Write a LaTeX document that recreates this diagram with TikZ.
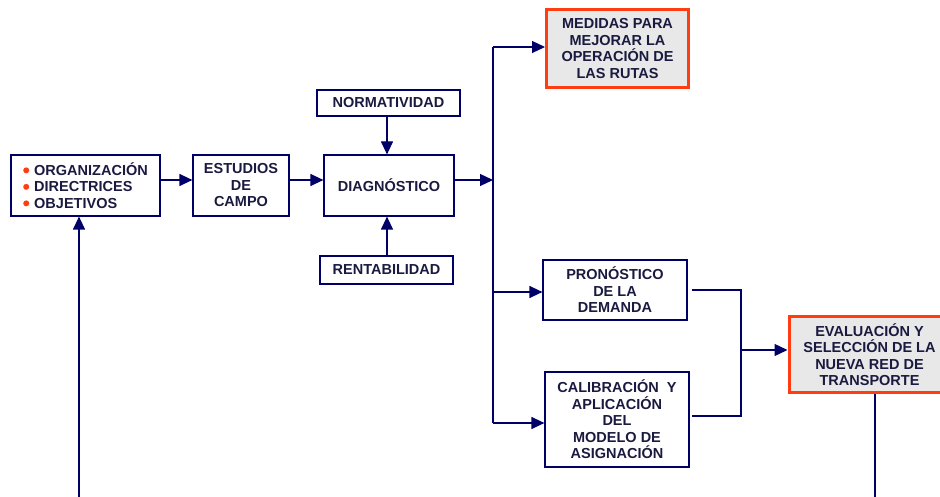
\documentclass[tikz,border=0pt]{standalone}
\usepackage{fontspec}
\setmainfont{Liberation Sans}
\usetikzlibrary{positioning, arrows.meta}

\definecolor{navy}{HTML}{000066}
\definecolor{inkblue}{HTML}{1A1A40}
\definecolor{redline}{HTML}{FF3D12}
\definecolor{boxgray}{HTML}{E8E8E8}

\newcommand{\bul}{\tikz[x=1pt, y=1pt, baseline={(0,0)}] \fill[redline] (0,5) circle (3);\hspace{5pt}}

\begin{document}
\begin{tikzpicture}[
    x=1pt, y=-1pt,
    font=\fontsize{14.5}{16.5}\selectfont\bfseries,
    step box/.style={draw=navy, line width=1.2pt, text=inkblue, align=center, inner sep=0pt},
    goal box/.style={draw=redline, fill=boxgray, line width=3pt, text=inkblue, align=center, inner sep=0pt},
    flow line/.style={draw=navy, line width=1.2pt},
    arrow line/.style={flow line, -{Triangle[length=13pt, width=12pt]}}
]
    \useasboundingbox (0,0) rectangle (940,497);

    % Nodes
    \node[step box, minimum width=149, minimum height=61, align=left] (org) at (85.5,185.5)
        {\bul ORGANIZACIÓN\\ \bul DIRECTRICES\\ \bul OBJETIVOS};
    \node[step box, minimum width=96, minimum height=61] (estudios) at (241,185.5) {ESTUDIOS\\ DE\\ CAMPO};
    \node[step box, minimum width=130, minimum height=61] (diag) at (389,185.5) {DIAGNÓSTICO};
    \node[step box, minimum width=143, minimum height=26] (norma) at (388.5,103) {NORMATIVIDAD};
    \node[step box, minimum width=133, minimum height=28] (renta) at (386.5,270) {RENTABILIDAD};
    \node[goal box, minimum width=142, minimum height=78] (medidas) at (617.5,48.5)
        {MEDIDAS PARA\\ MEJORAR LA\\ OPERACIÓN DE\\ LAS RUTAS};
    \node[step box, minimum width=144, minimum height=60] (pron) at (615,290) {PRONÓSTICO\\ DE LA\\ DEMANDA};
    \node[step box, minimum width=144, minimum height=95] (calib) at (617,419.5)
        {CALIBRACIÓN\ \ Y\\ APLICACIÓN\\ DEL\\ MODELO DE\\ ASIGNACIÓN};
    \node[goal box, minimum width=161, minimum height=76] (eval) at (869.5,354.5)
        {EVALUACIÓN Y\\ SELECCIÓN DE LA\\ NUEVA RED DE\\ TRANSPORTE};

    % Points of the connectors
    \coordinate (main row) at (0,180);
    \coordinate (bus top) at (493,47);
    \coordinate (bus mid) at (493,292);
    \coordinate (bus bottom) at (493,423);
    \coordinate (pron out) at ([xshift=4pt]pron.east);
    \coordinate (calib out) at (692,416);
    \coordinate (bracket) at (741,350);
    \coordinate (org feed) at (79,497);
    \coordinate (eval tail) at (875,497);

    % Edges
    \draw[arrow line] (org.east |- main row) -- (estudios.west |- main row);
    \draw[arrow line] (estudios.east |- main row) -- (diag.west |- main row);
    \draw[arrow line] (diag.east |- main row) -- (bus top |- main row);
    \draw[arrow line] (norma.south -| 387,0) -- (diag.north -| 387,0);
    \draw[arrow line] (renta.north -| 387,0) -- (diag.south -| 387,0);
    \draw[flow line] (bus top) -- (bus bottom);
    \draw[arrow line] (bus top) -- (bus top -| medidas.west);
    \draw[arrow line] (bus mid) -- (bus mid -| pron.west);
    \draw[arrow line] (bus bottom) -- (bus bottom -| calib.west);
    \draw[flow line] (pron out) -- (pron out -| bracket) -- (calib out -| bracket) -- (calib out);
    \draw[arrow line] (bracket) -- (bracket -| eval.west);
    \draw[arrow line] (org feed) -- (org feed |- org.south);
    \draw[flow line] (eval tail |- eval.south) -- (eval tail);

\end{tikzpicture}
\end{document}
